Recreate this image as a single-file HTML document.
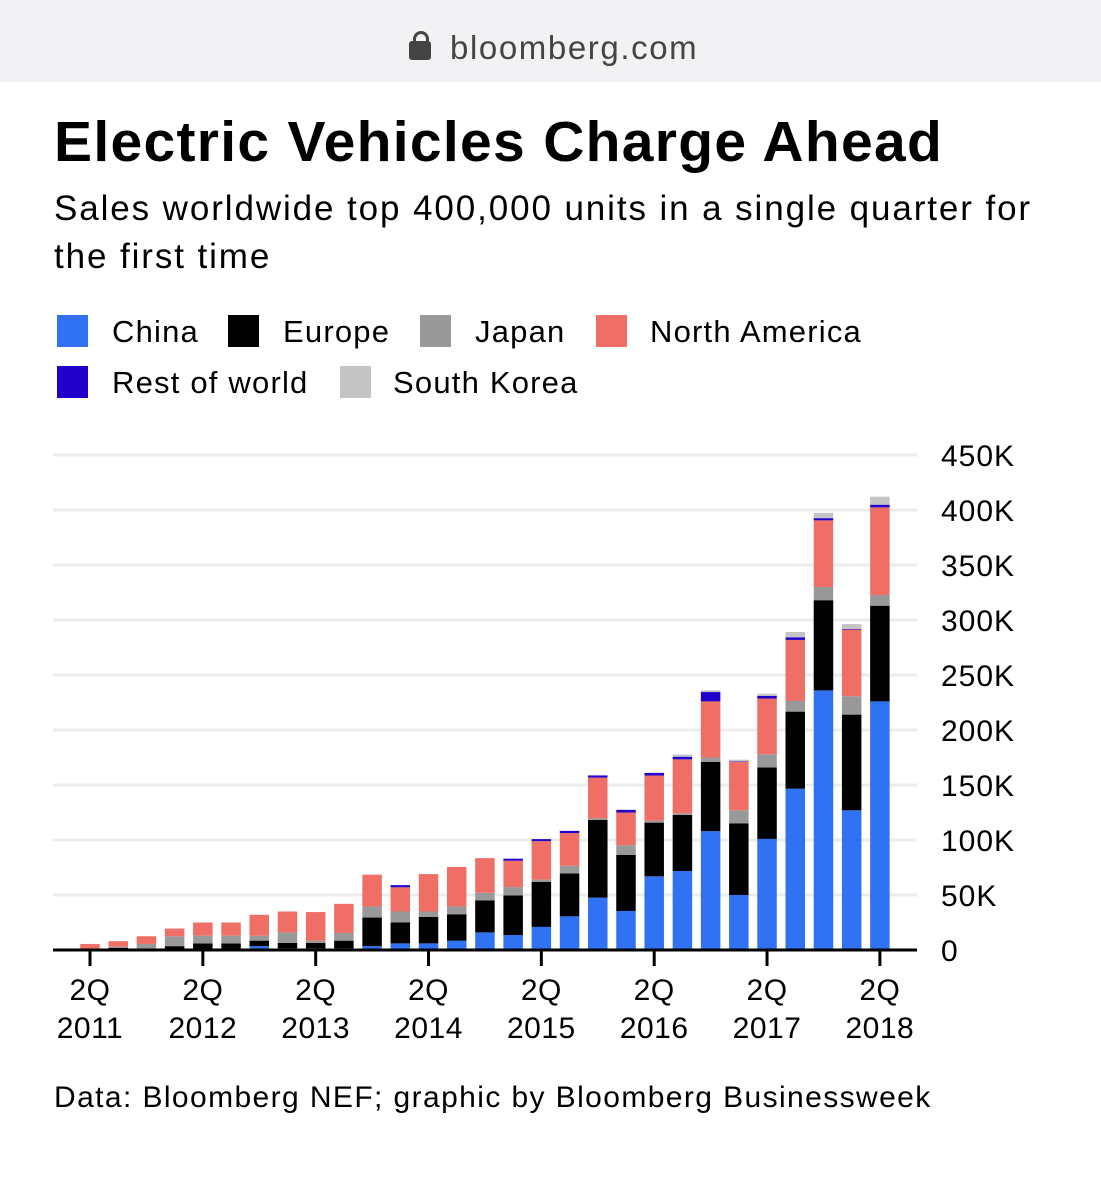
<!DOCTYPE html>
<html><head><meta charset="utf-8"><style>
body{margin:0;width:1101px;height:1200px;background:#fff;font-family:"Liberation Sans",sans-serif;overflow:hidden;position:relative}
.t{position:absolute;white-space:nowrap}
</style></head><body>
<div style="position:absolute;left:0;top:0;width:1101px;height:82px;background:#f2f2f4"></div>
<div style="position:absolute;left:409px;top:41px;width:22px;height:19px;background:#444;border-radius:3px"></div>
<div style="position:absolute;left:413px;top:31px;width:10px;height:14px;border:3px solid #444;border-bottom:none;border-radius:8px 8px 0 0"></div>
<div class="t" style="left:450px;top:29px;font-size:33px;color:#444;letter-spacing:1.6px">bloomberg.com</div>
<div class="t" style="left:54px;top:109px;font-size:57px;font-weight:bold;letter-spacing:1.3px">Electric Vehicles Charge Ahead</div>
<div class="t" style="left:54px;top:185px;font-size:35px;line-height:48px;letter-spacing:1.9px">Sales worldwide top 400,000 units in a single quarter for<br>the first time</div>
<svg id="c" width="1101" height="1200" style="position:absolute;left:0;top:0" font-family="Liberation Sans, sans-serif"></svg>
<div class="t" style="left:54px;top:1081px;font-size:30px;letter-spacing:1.4px">Data: Bloomberg NEF; graphic by Bloomberg Businessweek</div>
<script>
const seriesNames=["China","Europe","Japan","North America","Rest of world","South Korea"];
const china=[0,1,0.5,1,1,1,3.5,1.5,1.5,1.5,3.5,6,6,8.5,16,13.6,21,30.6,47.6,35.5,67,71.8,108,50,101,146.7,236,127,226];
const europe=[0.5,1,1,2.5,5,5,5,5,5,7,26,19,24,24,29,36,41,39,70.6,51,48.8,51,63,65,65,70,82,87,87];
const japan=[0,1,4,9,7,7,4.5,9.5,2,7,10,10,5,7,7,7.6,2,7,1.5,8.8,1.8,1.5,4,12,12,9.7,12,16.7,9.7];
const northAmerica=[5,5,7,7,12,12,19,19,26,26.5,29,22,34,36,31.5,24,35,29.7,37,29.7,41,49,51,44,50.6,55.5,60.6,60.6,79.7];
const restOfWorld=[0,0,0,0,0,0,0,0,0,0,0,2,0,0,0,1.8,1.8,2,2,2.4,2.4,2.4,8.5,0.5,2.4,2.4,2,0.5,2.4];
const southKorea=[0,0,0,0,0,0,0,0,0,0,0,0,0,0,0,0,0,0,0,0,0,2,1.5,1.5,2,4.8,4.8,4.5,7.3];
const yTicks=[0,50,100,150,200,250,300,350,400,450];
const yTickLabels=["0","50K","100K","150K","200K","250K","300K","350K","400K","450K"];
const xTickIdx=[0,4,8,12,16,20,24,28];
const xTickLabels=[["2Q","2011"],["2Q","2012"],["2Q","2013"],["2Q","2014"],["2Q","2015"],["2Q","2016"],["2Q","2017"],["2Q","2018"]];
const colors=["#3172f5","#000000","#999999","#ef6f66","#2200cc","#c4c4c4"];
const svg=document.getElementById('c');const NS='http://www.w3.org/2000/svg';
function y(v){return 950-v*1.1;}
function x(i){return 90+i*28.21;}
function mk(t,a){const e=document.createElementNS(NS,t);for(const k in a)e.setAttribute(k,a[k]);svg.appendChild(e);return e;}
yTicks.forEach((v,i)=>{
 if(v>0){const g=mk('line',{x1:53,x2:917,y1:y(v),y2:y(v),stroke:'#ececec','stroke-width':3});
 
 }
 const t=mk('text',{x:941,y:y(v)+11,'font-size':30,fill:'#000','letter-spacing':1});t.textContent=yTickLabels[i];
 
 
});
const all=[china,europe,japan,northAmerica,restOfWorld,southKorea];
for(let i=0;i<china.length;i++){let base=0;
 all.forEach((s,k)=>{const v=s[i];if(v<=0)return;
  const r=mk('rect',{x:x(i)-9.75,width:19.5,y:y(base+v),height:v*1.1,fill:colors[k]});
  
  
  base+=v;});
}
const ax=mk('line',{x1:53,x2:917,y1:950,y2:950,stroke:'#000','stroke-width':3});


xTickIdx.forEach((idx,j)=>{
 const tk=mk('line',{x1:x(idx),x2:x(idx),y1:950,y2:966,stroke:'#000','stroke-width':3});
 
 
 xTickLabels[j].forEach((s,l)=>{const t=mk('text',{x:x(idx),y:1000+l*38,'font-size':30,'text-anchor':'middle','letter-spacing':0.5});t.textContent=s;
 
 });
});
const leg=[[57,315,112,"China"],[228,315,283,"Europe"],[420,315,475,"Japan"],[596,315,650,"North America"],[57,366,112,"Rest of world"],[340,366,393,"South Korea"]];
leg.forEach((l,k)=>{
 const r=mk('rect',{x:l[0],y:l[1],width:31,height:32,fill:colors[k]});
 
 
 const t=mk('text',{x:l[2],y:l[1]+27,'font-size':31,'letter-spacing':1.2});t.textContent=l[3];
 
 
});
</script>
</body></html>
